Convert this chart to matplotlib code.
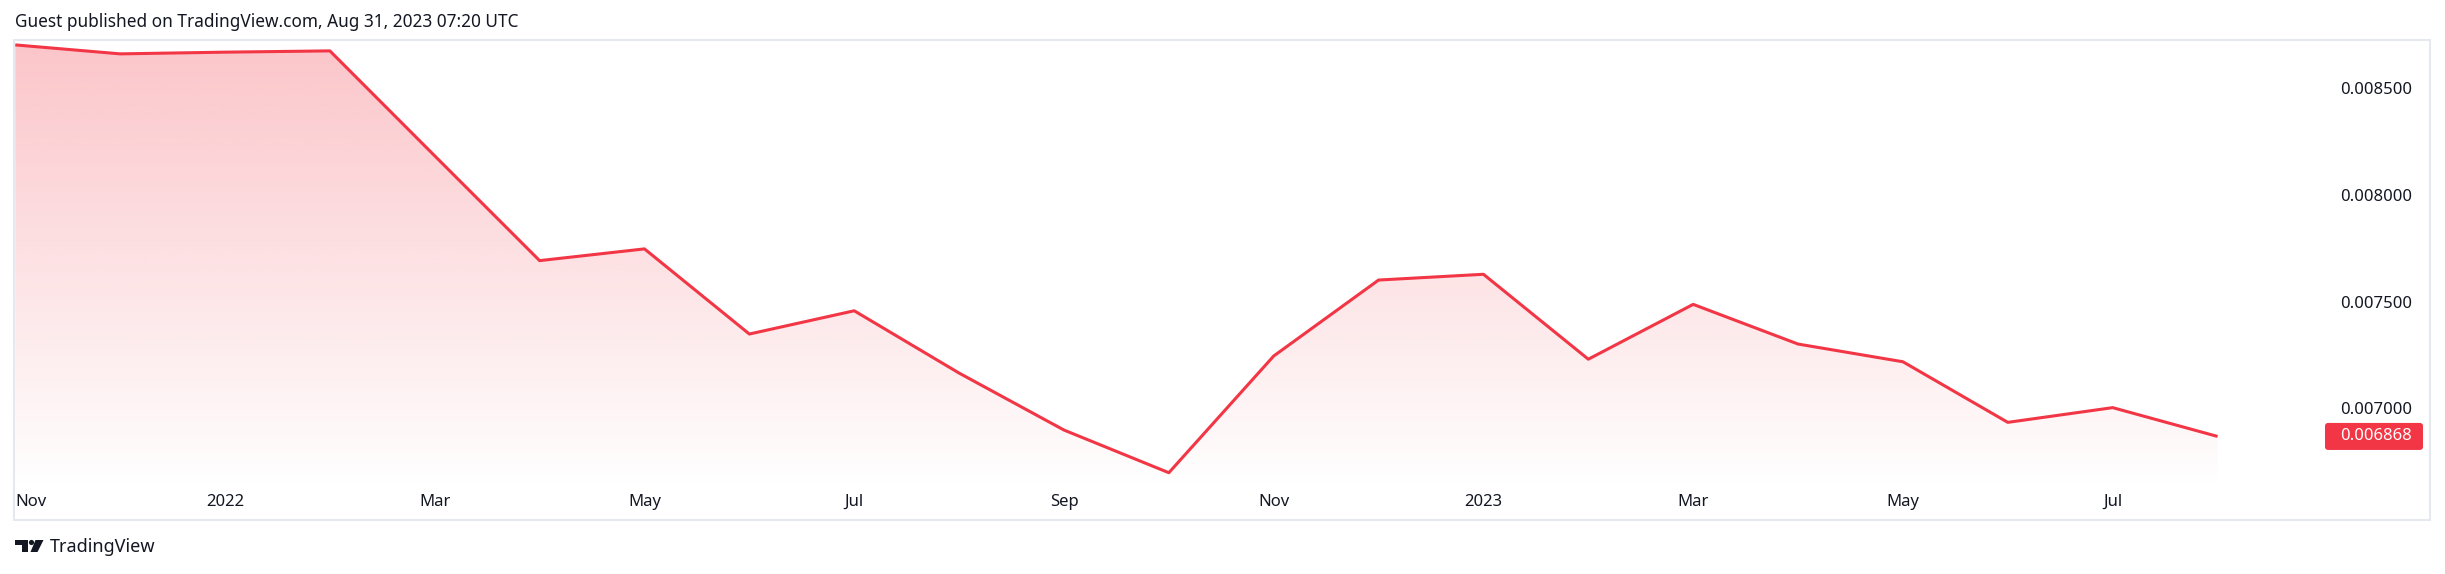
import numpy as np
import matplotlib
matplotlib.use("Agg")
import matplotlib.pyplot as plt
import matplotlib.transforms as mtransforms
from matplotlib.patches import Polygon, FancyBboxPatch, Rectangle, Circle

# ---------------- data ----------------
months = ["Nov 2021", "Dec 2021", "Jan 2022", "Feb 2022", "Mar 2022", "Apr 2022",
          "May 2022", "Jun 2022", "Jul 2022", "Aug 2022", "Sep 2022", "Oct 2022",
          "Nov 2022", "Dec 2022", "Jan 2023", "Feb 2023", "Mar 2023", "Apr 2023",
          "May 2023", "Jun 2023", "Jul 2023", "Aug 2023"]
values = [0.008703, 0.008661, 0.008669, 0.008675, 0.008183, 0.007692,
          0.007747, 0.007348, 0.007457, 0.007165, 0.006898, 0.006698,
          0.007245, 0.007601, 0.007628, 0.007230, 0.007487, 0.007301,
          0.007218, 0.006934, 0.007003, 0.006868]
time_tick_idx = [0, 2, 4, 6, 8, 10, 12, 14, 16, 18, 20]
time_tick_labels = ["Nov", "2022", "Mar", "May", "Jul", "Sep", "Nov", "2023", "Mar", "May", "Jul"]
price_ticks = [0.0070, 0.0075, 0.0080, 0.0085]
last_label = "0.006868"
header = "Guest published on TradingView.com, Aug 31, 2023 07:20 UTC"

# ---------------- style ----------------
RED = "#F23645"
TXT = "#131722"
BORDER = "#e6e8ee"
FONT = ["Noto Sans", "DejaVu Sans"]
plt.rcParams["font.family"] = FONT

W, H = 2445, 574
DPI = 100
fig = plt.figure(figsize=(W / DPI, H / DPI), dpi=DPI, facecolor="white")

def fx(px):
    return px / W

def fy(py):
    return 1 - py / H

# pane
pl, pr, pt, pb = 14, 2320, 40, 490
ax = fig.add_axes([fx(pl), fy(pb), fx(pr) - fx(pl), fy(pt) - fy(pb)])
ax.set_facecolor("white")
for s in ax.spines.values():
    s.set_visible(False)

x = np.arange(len(values))
ax.set_xlim(-0.012, 21.977)
ax.set_ylim(0.006617, 0.008726)
ylo, yhi = ax.get_ylim()

# gradient fill
grad = np.zeros((256, 2, 4))
c = matplotlib.colors.to_rgb(RED)
grad[..., 0], grad[..., 1], grad[..., 2] = c
grad[..., 3] = np.linspace(0.29, 0.0, 256)[:, None]
im = ax.imshow(grad, extent=(x[0], x[-1], ylo, yhi), origin="upper",
               aspect="auto", interpolation="bilinear", zorder=1)
verts = [(x[0], ylo)] + list(zip(x, values)) + [(x[-1], ylo)]
poly = Polygon(verts, closed=True, facecolor="none", edgecolor="none",
               transform=ax.transData)
ax.add_patch(poly)
im.set_clip_path(poly)
ax.set_xlim(-0.012, 21.977)
ax.set_ylim(ylo, yhi)

ax.plot(x, values, color=RED, lw=2.2, solid_joinstyle="round",
        solid_capstyle="butt", zorder=3)

# time axis
ax.set_xticks(time_tick_idx)
ax.set_xticklabels(time_tick_labels)
ax.tick_params(axis="x", length=0, pad=3, labelsize=12, labelcolor=TXT)
for lbl in ax.get_xticklabels():
    if lbl.get_text().isdigit():
        lbl.set_fontweight("bold")
ax.get_xticklabels()[0].set_horizontalalignment("left")

# price axis
ax.yaxis.tick_right()
ax.set_yticks(price_ticks)
ax.set_yticklabels([f"{v:.6f}" for v in price_ticks])
ax.tick_params(axis="y", length=0, pad=(2412 - pr) * 72 / DPI, labelsize=12,
               labelcolor=TXT)
for lbl in ax.get_yticklabels():
    lbl.set_horizontalalignment("right")

# last value badge
fig.canvas.draw()
yp = ax.transData.transform((0, values[-1]))[1]
badge = FancyBboxPatch((2325, yp - 13.5), 98, 27,
                       boxstyle="round,pad=0,rounding_size=3",
                       facecolor=RED, edgecolor="none",
                       transform=mtransforms.IdentityTransform())
fig.add_artist(badge)
fig.text(2412 / W, yp / H, last_label, ha="right", va="center",
         color="white", fontsize=12)

# outer frame
frame = Rectangle((14, H - 520), 2430 - 14, 520 - 40, facecolor="none",
                  edgecolor=BORDER, lw=1.5,
                  transform=mtransforms.IdentityTransform())
fig.add_artist(frame)

# header
fig.text(fx(15), fy(22), header, ha="left", va="center", fontsize=12.4, color=TXT)

# TradingView logo
idt = mtransforms.IdentityTransform()
def P(pts):
    return [(px, H - py) for px, py in pts]
fig.add_artist(Polygon(P([(15, 540), (27.5, 540), (27.5, 552), (21.5, 552),
                          (21.5, 545), (15, 545)]), closed=True,
                       facecolor=TXT, edgecolor="none", transform=idt))
fig.add_artist(Circle((31.5, H - 542.5), 2.6, facecolor=TXT, edgecolor="none",
                      transform=idt))
fig.add_artist(Polygon(P([(35.5, 540), (43.5, 540), (37.5, 552), (30.5, 552)]),
                       closed=True, facecolor=TXT, edgecolor="none", transform=idt))
fig.text(fx(50), fy(547), "TradingView", ha="left", va="center",
         fontsize=13, color=TXT)

fig.savefig("out.png", dpi=DPI, facecolor="white")
